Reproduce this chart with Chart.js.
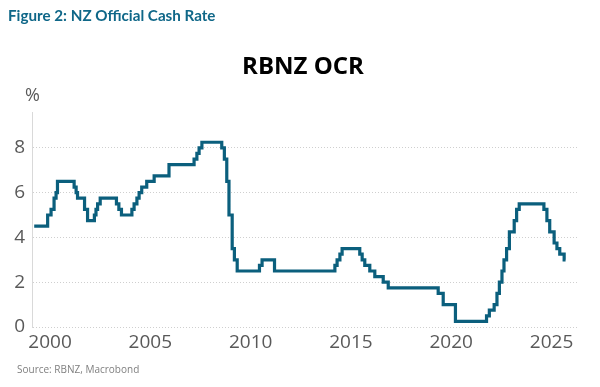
<!DOCTYPE html>
<html>
<head>
<meta charset="utf-8">
<script src="https://cdn.jsdelivr.net/npm/chart.js@4.4.1/dist/chart.umd.min.js"></script>
<style>
    body { margin: 0; background: #fff; }
    #wrap { position: relative; width: 600px; height: 387px; overflow: hidden; }
    #fig { position: absolute; left: 8px; top: 6px; font: bold 15.2px Lato, sans-serif; color: #0f6788; }
    #title { position: absolute; left: 0; width: 606px; top: 48px; text-align: center; font: bold 24px "Open Sans", sans-serif; color: #000; }
    #unit { position: absolute; left: 25px; top: 82px; font: 18px "Open Sans", sans-serif; color: #595959; }
    #source { position: absolute; left: 17px; top: 362px; font: 10px "Open Sans", sans-serif; color: #7f7f7f; }
    canvas { position: absolute; left: 0; top: 0; }
</style>
</head>
<body>
<div id="wrap">
    <canvas id="ocrChart" width="600" height="387"></canvas>
    <div id="fig">Figure 2: NZ Official Cash Rate</div>
    <div id="title">RBNZ OCR</div>
    <div id="unit">%</div>
    <div id="source">Source: RBNZ, Macrobond</div>
</div>
<script>
// OCR decision dates (decimal years) and the rate set at each one
const decisionDates = [
    1999.21, 1999.88, 2000.05, 2000.20, 2000.30, 2000.37,
    2001.20, 2001.30, 2001.37, 2001.72, 2001.87,
    2002.21, 2002.29, 2002.37, 2002.50,
    2003.31, 2003.43, 2003.56,
    2004.08, 2004.19, 2004.33, 2004.44, 2004.57, 2004.82,
    2005.19, 2005.93,
    2007.18, 2007.32, 2007.43, 2007.57,
    2008.56, 2008.69, 2008.81, 2008.92,
    2009.08, 2009.19, 2009.33,
    2010.44, 2010.57, 2011.19,
    2014.20, 2014.31, 2014.45, 2014.56,
    2015.44, 2015.56, 2015.69, 2015.94,
    2016.19, 2016.61, 2016.86,
    2019.35, 2019.60, 2020.21,
    2021.76, 2021.90,
    2022.14, 2022.28, 2022.40, 2022.53, 2022.63, 2022.76, 2022.90,
    2023.14, 2023.26, 2023.39,
    2024.62, 2024.77, 2024.91,
    2025.13, 2025.27, 2025.41, 2025.63, 2025.70
];
const ocrRates = [
    4.5, 5.0, 5.25, 5.75, 6.0, 6.5,
    6.25, 6.0, 5.75, 5.25, 4.75,
    5.0, 5.25, 5.5, 5.75,
    5.5, 5.25, 5.0,
    5.25, 5.5, 5.75, 6.0, 6.25, 6.5,
    6.75, 7.25,
    7.5, 7.75, 8.0, 8.25,
    8.0, 7.5, 6.5, 5.0,
    3.5, 3.0, 2.5,
    2.75, 3.0, 2.5,
    2.75, 3.0, 3.25, 3.5,
    3.25, 3.0, 2.75, 2.5,
    2.25, 2.0, 1.75,
    1.5, 1.0, 0.25,
    0.5, 0.75,
    1.0, 1.5, 2.0, 2.5, 3.0, 3.5, 4.25,
    4.75, 5.25, 5.5,
    5.25, 4.75, 4.25,
    3.75, 3.5, 3.25, 3.0, 3.0
];

// Axis ticks
const yearTicks = [2000, 2005, 2010, 2015, 2020, 2025];
const rateTicks = [0, 1, 2, 3, 4, 5, 6, 7, 8, 9];

const lineColor = '#0b5f7d';
const greyText = '#595959';

const points = decisionDates.map((x, i) => ({ x, y: ocrRates[i] }));

new Chart(document.getElementById('ocrChart').getContext('2d'), {
    type: 'line',
    data: {
        datasets: [{
            label: 'OCR',
            data: points,
            borderColor: lineColor,
            borderWidth: 3.2,
            stepped: true,
            pointRadius: 0,
            fill: false
        }]
    },
    options: {
        responsive: false,
        animation: false,
        layout: { padding: { top: 112, right: 22, left: 0, bottom: 0 } },
        plugins: {
            legend: { display: false },
            tooltip: { enabled: false }
        },
        scales: {
            x: {
                type: 'linear',
                min: 1999.1,
                max: 2026.32,
                afterBuildTicks: scale => { scale.ticks = yearTicks.map(v => ({ value: v })); },
                afterFit: scale => { scale.height = 60; },
                grid: { display: false, drawTicks: false },
                border: { display: false },
                ticks: {
                    autoSkip: false,
                    maxRotation: 0,
                    padding: 4,
                    color: greyText,
                    font: { family: 'Open Sans', size: 19 },
                    callback: v => String(v)
                }
            },
            y: {
                min: 0,
                max: 9.6,
                afterBuildTicks: scale => { scale.ticks = rateTicks.map(v => ({ value: v })); },
                afterFit: scale => { scale.width = 32; },
                grid: { color: '#cfcfcf', lineWidth: 1, drawTicks: false },
                border: { display: true, color: '#d9d9d9', dash: [1, 2] },
                ticks: {
                    padding: 7,
                    color: greyText,
                    font: { family: 'Open Sans', size: 19 },
                    callback: v => (v % 2 === 0 ? String(v) : '')
                }
            }
        }
    }
});
</script>
</body>
</html>
